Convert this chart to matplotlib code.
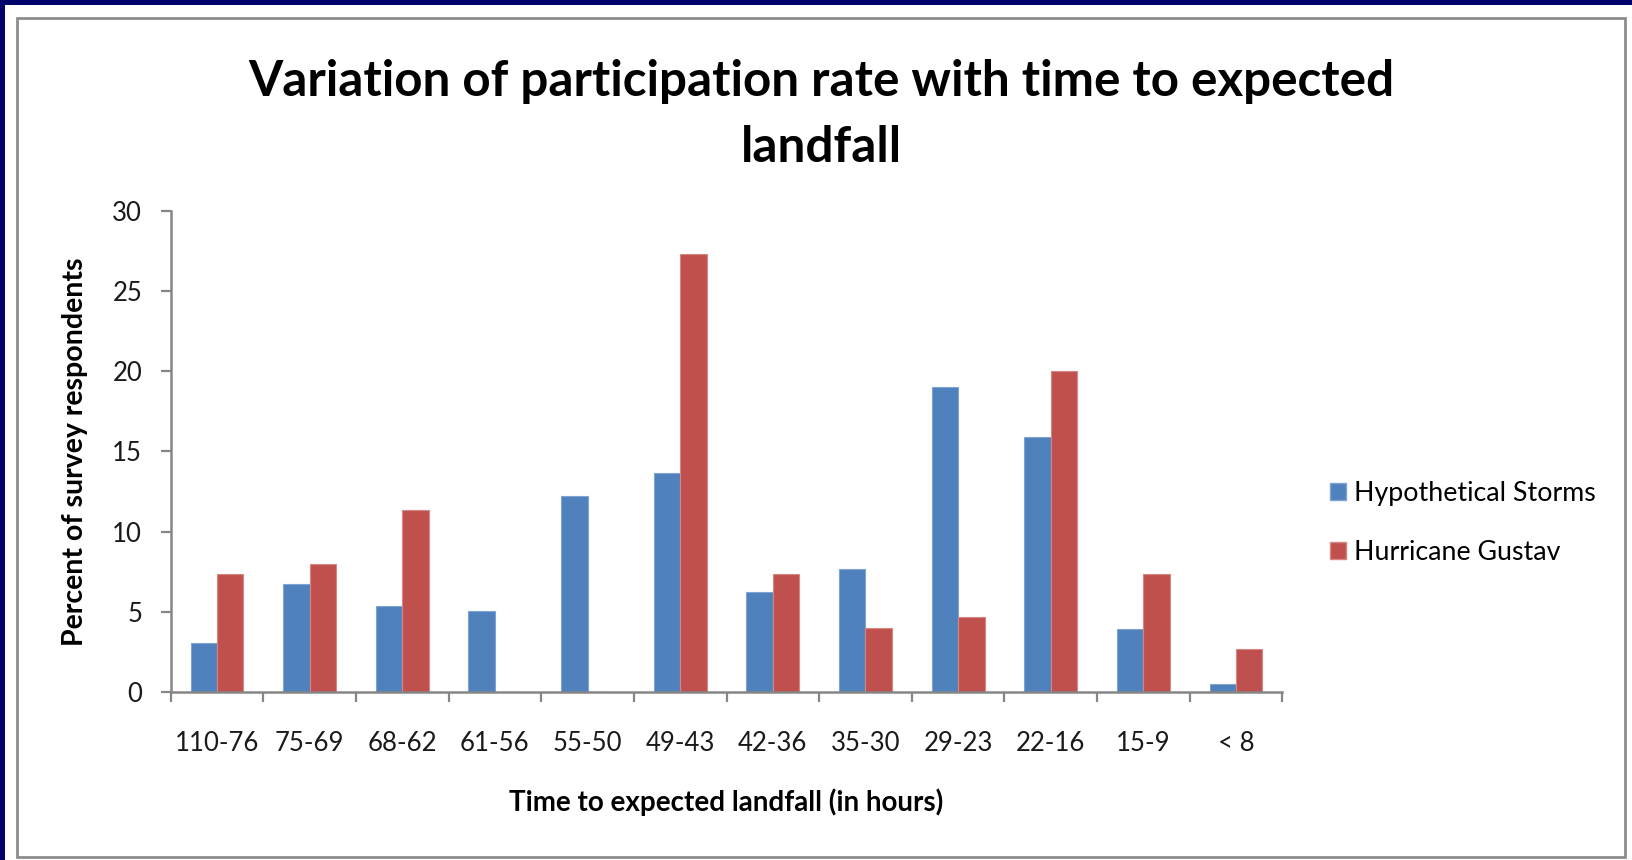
import matplotlib.pyplot as plt
import numpy as np
from matplotlib.patches import Patch, Rectangle

plt.rcParams['font.family'] = ['Lato', 'DejaVu Sans']

categories = ['110-76', '75-69', '68-62', '61-56', '55-50', '49-43',
              '42-36', '35-30', '29-23', '22-16', '15-9', '< 8']
hypothetical = [3.06, 6.76, 5.35, 5.06, 12.22, 13.63, 6.26, 7.65, 19.03, 15.9, 3.95, 0.48]
gustav = [7.33, 8.0, 11.33, 0, 0, 27.33, 7.33, 4.0, 4.67, 20.0, 7.33, 2.67]
series_names = ['Hypothetical Storms', 'Hurricane Gustav']
colors = ['#4F81BD', '#C0504D']
edge_colors = ['#7fa3d3', '#d68784']

W, H = 1632, 860
fig = plt.figure(figsize=(W / 100, H / 100), dpi=100)

# navy frame strips (top/left) and the grey chart border
fig.patches.append(Rectangle((0, 0), 5 / W, 1, transform=fig.transFigure,
                             facecolor='#02026b', edgecolor='none', zorder=0))
fig.patches.append(Rectangle((0, 1 - 5 / H), 1, 5 / H, transform=fig.transFigure,
                             facecolor='#02026b', edgecolor='none', zorder=0))
fig.patches.append(Rectangle((17 / W, 3 / H), (1625 - 17) / W, (857 - 15 - 3) / H,
                             transform=fig.transFigure, facecolor='none',
                             edgecolor='#8c8c8c', linewidth=2, zorder=1))

ax = fig.add_axes([170.7 / W, (H - 692) / H, 1111.6 / W, 481.3 / H])

x = np.arange(len(categories))
w = 1 / 3.5
ax.bar(x - w / 2, hypothetical, w, color=colors[0], edgecolor=edge_colors[0], linewidth=0.8)
ax.bar(x + w / 2, gustav, w, color=colors[1], edgecolor=edge_colors[1], linewidth=0.8)

ax.set_xlim(-0.5, len(categories) - 0.5)
ax.set_ylim(0, 30)
ax.set_yticks([0, 5, 10, 15, 20, 25, 30])

ax.set_xticks(x)
ax.set_xticklabels(categories)
ax.set_xticks(np.arange(len(categories) + 1) - 0.5, minor=True)
ax.tick_params(axis='x', which='major', length=0, pad=28, labelsize=18.5, colors='#1a1a1a')
ax.tick_params(axis='x', which='minor', length=7.5, width=1.6, color='#868686')
ax.tick_params(axis='y', length=7.5, width=1.6, color='#868686', pad=13,
               labelsize=18.5, labelcolor='#1a1a1a')

for s in ['top', 'right']:
    ax.spines[s].set_visible(False)
for s in ['left', 'bottom']:
    ax.spines[s].set_color('#868686')
    ax.spines[s].set_linewidth(1.8)

ax.set_ylabel('Percent of survey respondents', fontsize=20.5, fontweight='bold', va='center')
ax.yaxis.set_label_coords((75 - 170.7) / 1111.6, 0.5)
ax.set_xlabel('Time to expected landfall (in hours)', fontsize=20, fontweight='bold', va='center')
ax.xaxis.set_label_coords(0.5, -(802.5 - 692) / 481.3)

fig.text(821 / W, 1 - 81 / H, 'Variation of participation rate with time to expected',
         ha='center', va='center', fontsize=35.6, fontweight='bold')
fig.text(821 / W, 1 - 147 / H, 'landfall',
         ha='center', va='center', fontsize=35.6, fontweight='bold')

handles = [Patch(facecolor=c, edgecolor=e) for c, e in zip(colors, edge_colors)]
fig.legend(handles, series_names, loc='center left',
           bbox_to_anchor=(1306 / W, 1 - 523 / H), frameon=False,
           fontsize=19.3, handlelength=0.6, handleheight=0.6,
           handletextpad=0.3, labelspacing=1.25)

fig.savefig('out.png', dpi=100)
